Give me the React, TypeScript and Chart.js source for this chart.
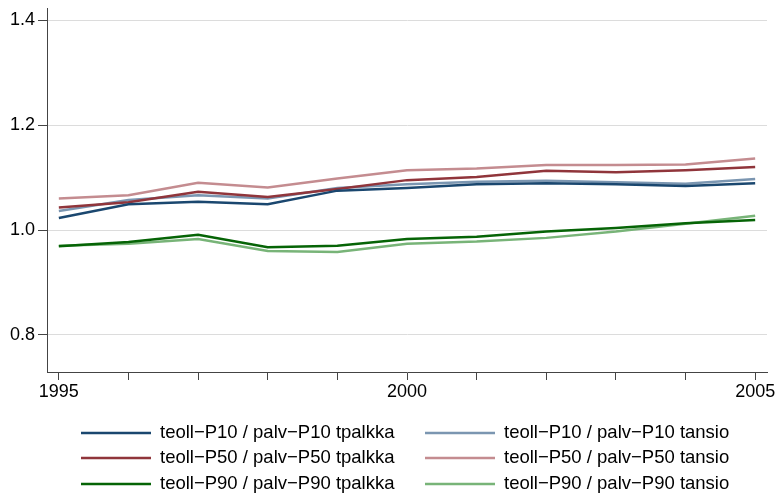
import React, { useEffect, useRef } from "react";
import { Chart, registerables } from "chart.js";

Chart.register(...registerables);

const years = [1995, 1996, 1997, 1998, 1999, 2000, 2001, 2002, 2003, 2004, 2005];
const xTickLabels = [1995, 2000, 2005];
const yTicks = [0.8, 1.0, 1.2, 1.4];

const p10Tpalkka = [1.023, 1.049, 1.054, 1.049, 1.075, 1.080, 1.087, 1.089, 1.087, 1.084, 1.089];
const p50Tpalkka = [1.043, 1.053, 1.073, 1.063, 1.078, 1.095, 1.101, 1.113, 1.110, 1.114, 1.120];
const p90Tpalkka = [0.969, 0.977, 0.991, 0.967, 0.970, 0.983, 0.987, 0.997, 1.004, 1.013, 1.019];
const p10Tansio = [1.036, 1.057, 1.066, 1.060, 1.080, 1.087, 1.092, 1.094, 1.091, 1.088, 1.097];
const p50Tansio = [1.060, 1.066, 1.090, 1.081, 1.098, 1.114, 1.117, 1.124, 1.124, 1.125, 1.136];
const p90Tansio = [0.970, 0.974, 0.983, 0.960, 0.958, 0.974, 0.978, 0.985, 0.997, 1.012, 1.027];

const seriesLabels = [
  "teoll\u2212P10 / palv\u2212P10 tpalkka",
  "teoll\u2212P50 / palv\u2212P50 tpalkka",
  "teoll\u2212P90 / palv\u2212P90 tpalkka",
  "teoll\u2212P10 / palv\u2212P10 tansio",
  "teoll\u2212P50 / palv\u2212P50 tansio",
  "teoll\u2212P90 / palv\u2212P90 tansio",
];
const seriesValues = [p10Tpalkka, p50Tpalkka, p90Tpalkka, p10Tansio, p50Tansio, p90Tansio];
const seriesColors = ["#1a476f", "#90353b", "#066406", "#7b96b1", "#c48c90", "#78b478"];

const FONT = "'Liberation Sans', Arial, Helvetica, sans-serif";

const legendPlugin = {
  id: "customLegend",
  afterDraw(chart: any) {
    const ctx = chart.ctx;
    const ds = chart.data.datasets;
    const colX = [81, 425];
    const lineLen = 70;
    const textGap = 9;
    const rowY = [433, 458, 484];
    ctx.save();
    ctx.font = `18.5px ${FONT}`;
    ctx.textBaseline = "middle";
    ctx.textAlign = "left";
    ds.forEach((d: any, i: number) => {
      const col = Math.floor(i / 3);
      const row = i % 3;
      const x = colX[col];
      const y = rowY[row];
      ctx.strokeStyle = d.borderColor;
      ctx.lineWidth = 2.5;
      ctx.beginPath();
      ctx.moveTo(x, y);
      ctx.lineTo(x + lineLen, y);
      ctx.stroke();
      ctx.fillStyle = "#000";
      ctx.fillText(d.label, x + lineLen + textGap, y);
    });
    ctx.restore();
  },
};

export default function App() {
  const ref = useRef<HTMLCanvasElement | null>(null);
  useEffect(() => {
    document.body.style.margin = "0";
    if (!ref.current) return;
    const chart = new Chart(ref.current, {
      type: "line",
      data: {
        datasets: seriesValues.map((vals, i) => ({
          label: seriesLabels[i],
          data: years.map((y, j) => ({ x: y, y: vals[j] })),
          borderColor: seriesColors[i],
          backgroundColor: seriesColors[i],
          borderWidth: 2.5,
          pointRadius: 0,
          tension: 0,
          fill: false,
        })),
      },
      options: {
        responsive: false,
        animation: false,
        layout: { padding: { left: 0, right: 9, top: 8, bottom: 92 } },
        plugins: { legend: { display: false }, tooltip: { enabled: false } },
        scales: {
          x: {
            type: "linear",
            min: 1994.83,
            max: 2005.17,
            afterBuildTicks: (scale: any) => {
              scale.ticks = years.map((v) => ({ value: v }));
            },
            afterFit: (scale: any) => {
              scale.height = 30;
              scale.paddingLeft = 0;
              scale.paddingRight = 0;
            },
            grid: {
              drawOnChartArea: false,
              drawTicks: true,
              tickLength: 8,
              tickColor: "#444",
              color: "#444",
            },
            border: { display: true, color: "#444", width: 1 },
            ticks: {
              autoSkip: false,
              maxRotation: 0,
              padding: 1,
              color: "#000",
              font: { family: FONT, size: 18 },
              callback: (v: any) => (xTickLabels.includes(Number(v)) ? String(v) : ""),
            },
          },
          y: {
            type: "linear",
            min: 0.7295,
            max: 1.4229,
            afterBuildTicks: (scale: any) => {
              scale.ticks = yTicks.map((v) => ({ value: v }));
            },
            afterFit: (scale: any) => {
              scale.width = 47;
              scale.paddingTop = 0;
              scale.paddingBottom = 0;
            },
            grid: {
              drawOnChartArea: true,
              drawTicks: true,
              tickLength: 9,
              color: "#dcdcdc",
              tickColor: "#444",
              lineWidth: 1,
            },
            border: { display: true, color: "#444", width: 1 },
            ticks: {
              padding: 3,
              color: "#000",
              font: { family: FONT, size: 18 },
              callback: (v: any) => Number(v).toFixed(1),
            },
          },
        },
      },
      plugins: [legendPlugin],
    });
    return () => chart.destroy();
  }, []);
  return (
    <div style={{ width: 776, height: 494, background: "#fff" }}>
      <canvas ref={ref} width={776} height={494} style={{ display: "block" }} />
    </div>
  );
}
